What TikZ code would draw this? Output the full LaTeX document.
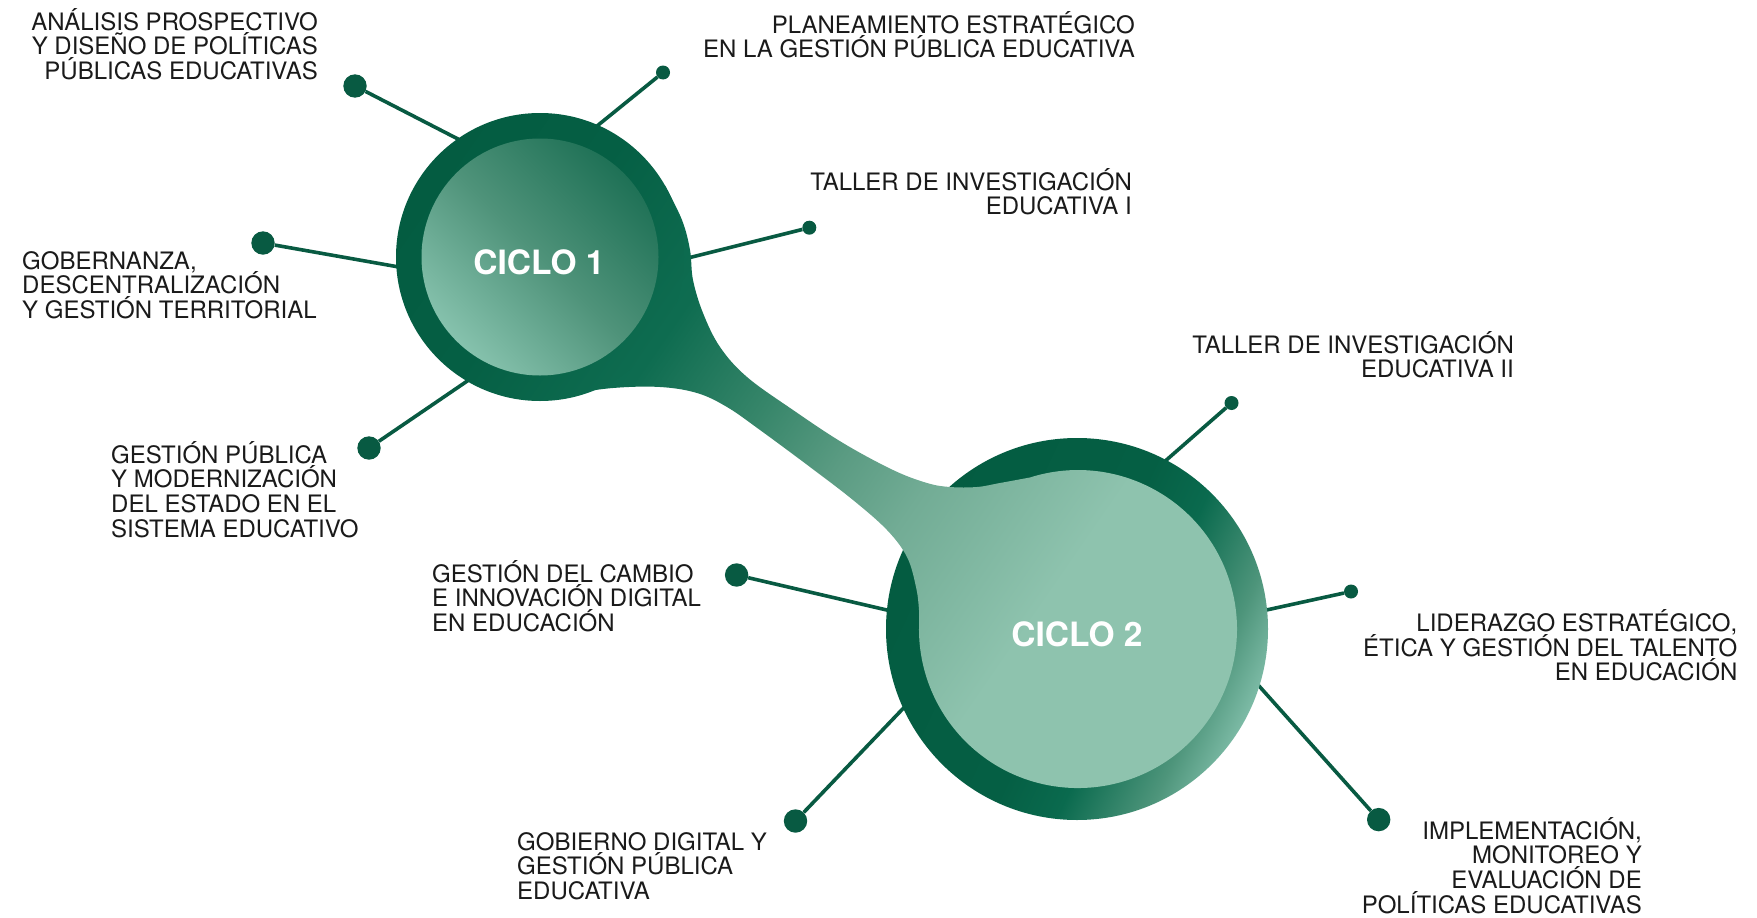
\documentclass[tikz,border=0pt]{standalone}
\usepackage{fontspec}
\newfontfamily\heros{TeX Gyre Heros}
\newcommand{\lblstrut}{\rule{0pt}{24pt}}
\newcommand{\lblfont}{\heros\fontsize{24pt}{24.6pt}\selectfont\setlength{\lineskiplimit}{-50pt}\relax}
\definecolor{dotgreen}{RGB}{8,90,66}
\definecolor{textblack}{RGB}{26,26,26}
\definecolor{tA}{RGB}{10,106,78}
\definecolor{tB}{RGB}{14,108,80}
\definecolor{tC}{RGB}{55,134,106}
\definecolor{tD}{RGB}{90,155,130}
\definecolor{tE}{RGB}{114,172,149}
\definecolor{tF}{RGB}{142,195,174}
\definecolor{rDark}{RGB}{4,92,65}
\definecolor{rDarkB}{RGB}{5,95,68}
\definecolor{rMid}{RGB}{10,106,78}
\definecolor{rTeal}{RGB}{78,149,123}
\definecolor{rLight}{RGB}{125,187,166}
\definecolor{iLight}{RGB}{134,194,173}
\definecolor{iMid}{RGB}{79,147,122}
\definecolor{iDark}{RGB}{31,113,86}
\pgfdeclarehorizontalshading{tailshade}{100bp}{color(0bp)=(tA); color(25bp)=(tA); color(30bp)=(tB); color(39bp)=(tC); color(45.7bp)=(tD); color(52bp)=(tE); color(64bp)=(tF); color(100bp)=(tF)}
\pgfdeclarehorizontalshading{ringone}{100bp}{color(0bp)=(rDark); color(25bp)=(rDark); color(50bp)=(rDarkB); color(75bp)=(tB); color(100bp)=(tB)}
\pgfdeclarehorizontalshading{ringtwo}{100bp}{color(0bp)=(rDark); color(25bp)=(rDark); color(50bp)=(rDarkB); color(58bp)=(rMid); color(68.7bp)=(rTeal); color(75bp)=(rLight); color(100bp)=(rLight)}
\pgfdeclarehorizontalshading{innerone}{100bp}{color(0bp)=(iLight); color(25bp)=(iLight); color(50bp)=(iMid); color(75bp)=(iDark); color(100bp)=(iDark)}
\begin{document}
\begin{tikzpicture}[x=1pt,y=-1pt,
  bigdot/.style={circle,fill=dotgreen,inner sep=0pt,minimum size=23.4pt},
  smalldot/.style={circle,fill=dotgreen,inner sep=0pt,minimum size=14pt},
  conn/.style={draw=dotgreen,line width=3.6pt},
  lbl/.style={font=\lblfont,text=textblack,inner sep=0pt},
  lblr/.style={lbl,align=right,anchor=north east},
  lbll/.style={lbl,align=left,anchor=north west},
  ciclo/.style={font=\heros\bfseries\fontsize{33.5pt}{36pt}\selectfont,text=white,inner sep=0pt}]
\useasboundingbox (0,0) rectangle (1757,918);
\fill[white] (0,0) rectangle (1757,918);

\coordinate (c1) at (540,257);
\coordinate (c2) at (1077,629);

% dots
\node[bigdot]   (dA1) at (355,86) {};
\node[smalldot] (dA2) at (663,72.5) {};
\node[smalldot] (dA3) at (809.3,227.7) {};
\node[bigdot]   (dA4) at (263,243) {};
\node[bigdot]   (dA5) at (369,448) {};
\node[smalldot] (dB1) at (1231.5,403) {};
\node[smalldot] (dB2) at (1351,591.5) {};
\node[bigdot]   (dB3) at (1378.7,819.6) {};
\node[bigdot]   (dB4) at (736.6,575) {};
\node[bigdot]   (dB5) at (795.5,821) {};

% connector ends (hidden under the rings)
\coordinate (eA1) at (463.8,142);
\coordinate (eA2) at (592.1,130);
\coordinate (eA3) at (680,260);
\coordinate (eA4) at (405.2,268.1);
\coordinate (eA5) at (473.9,376.5);
\coordinate (eB1) at (1162.3,463.6);
\coordinate (eB2) at (1258.7,611.7);
\coordinate (eB3) at (1253.7,680);
\coordinate (eB4) at (894.5,611.8);
\coordinate (eB5) at (908.8,702.5);

\draw[conn] (dA1) -- (eA1);
\draw[conn] (dA2) -- (eA2);
\draw[conn] (dA3) -- (eA3);
\draw[conn] (dA4) -- (eA4);
\draw[conn] (dA5) -- (eA5);
\draw[conn] (dB1) -- (eB1);
\draw[conn] (dB2) -- (eB2);
\draw[conn] (dB3) -- (eB3);
\draw[conn] (dB4) -- (eB4);
\draw[conn] (dB5) -- (eB5);

% circle 2 outer ring
\shade[shading=ringtwo,shading angle=-25] (c2) circle[radius=191];

% tail + inner circle 2
\shade[shading=tailshade,shading angle=-34.7]
  plot[smooth,tension=0.6] coordinates {(664.7,185) (682,220) (690,250) (693,280) (703,313) (720,347) (747,377) (793,410) (843,443) (893,470) (927,483) (950,487) (977,487) (1000,483) (1029.9,477.5)}
  arc[start angle=-107.6,end angle=180,radius=159]
  -- plot[smooth,tension=0.6] coordinates {(919,629) (919,610) (916,587) (907,557) (887,530) (853,500) (810,467) (760,430) (727,407) (697,393) (660,387) (613,388) (560,395) (523,398)}
  -- cycle;

% circle 1
\shade[shading=ringone,shading angle=-34.7] (c1) circle[radius=144];
\shade[shading=innerone,shading angle=45] (c1) circle[radius=118.5];

\node[ciclo] (k1) at (539,262) {CICLO 1};
\node[ciclo] (k2) at (1077,634) {CICLO 2};

% labels
\node[lblr] (tA1) at (318,6) {\lblstrut ANÁLISIS PROSPECTIVO\\Y DISEÑO DE POLÍTICAS\\PÚBLICAS EDUCATIVAS};
\node[lblr] (tA2) at (1135,9) {\lblstrut PLANEAMIENTO ESTRATÉGICO\\EN LA GESTIÓN PÚBLICA EDUCATIVA};
\node[lblr] (tA3) at (1132,166) {\lblstrut TALLER DE INVESTIGACIÓN\\EDUCATIVA I};
\node[lbll] (tA4) at (22,245) {\lblstrut GOBERNANZA,\\DESCENTRALIZACIÓN\\Y GESTIÓN TERRITORIAL};
\node[lbll] (tA5) at (111,439) {\lblstrut GESTIÓN PÚBLICA\\Y MODERNIZACIÓN\\DEL ESTADO EN EL\\SISTEMA EDUCATIVO};
\node[lblr] (tB1) at (1514,329) {\lblstrut TALLER DE INVESTIGACIÓN\\EDUCATIVA II};
\node[lbll] (tB4) at (432,558) {\lblstrut GESTIÓN DEL CAMBIO\\E INNOVACIÓN DIGITAL\\EN EDUCACIÓN};
\node[lblr] (tB2) at (1737.5,607.5) {\lblstrut LIDERAZGO ESTRATÉGICO,\\ÉTICA Y GESTIÓN DEL TALENTO\\EN EDUCACIÓN};
\node[lbll] (tB5) at (517,826) {\lblstrut GOBIERNO DIGITAL Y\\GESTIÓN PÚBLICA\\EDUCATIVA};
\node[lblr] (tB3) at (1642,815) {\lblstrut IMPLEMENTACIÓN,\\MONITOREO Y\\EVALUACIÓN DE\\POLÍTICAS EDUCATIVAS};
\end{tikzpicture}
\end{document}
